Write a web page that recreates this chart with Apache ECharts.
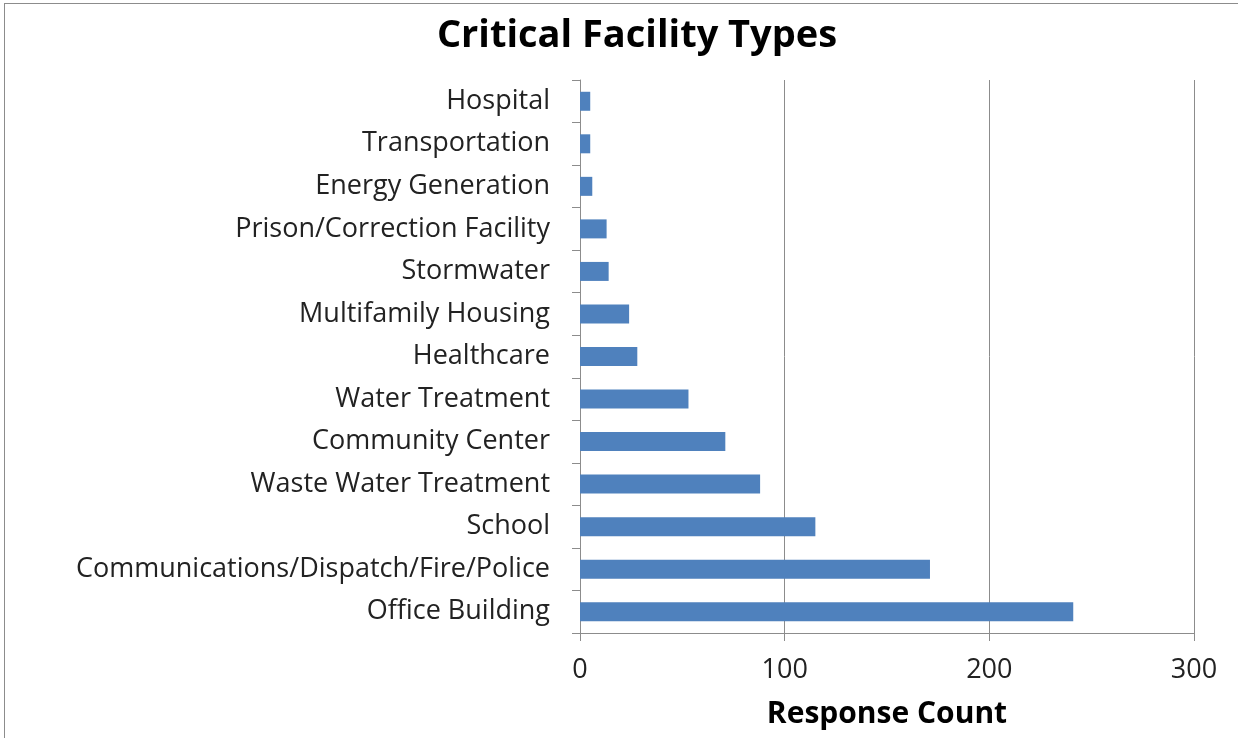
<!DOCTYPE html>
<html>
<head>
<meta charset="utf-8">
<script src="https://cdn.jsdelivr.net/npm/echarts@6/dist/echarts.min.js"></script>
<style>
  html, body { margin: 0; padding: 0; background: #fff; }
  #frame { position: absolute; left: 4px; top: 3px; width: 1240px; height: 740px; border: 1px solid #8c8c8c; box-sizing: border-box; }
  #chart { position: absolute; left: 0; top: 0; width: 1238px; height: 738px; }
</style>
</head>
<body>
<div id="frame"></div>
<div id="chart"></div>
<script>
const categories = [
  'Hospital',
  'Transportation',
  'Energy Generation',
  'Prison/Correction Facility',
  'Stormwater',
  'Multifamily Housing',
  'Healthcare',
  'Water Treatment',
  'Community Center',
  'Waste Water Treatment',
  'School',
  'Communications/Dispatch/Fire/Police',
  'Office Building'
];
const responseCounts = [5, 5, 6, 13, 14, 24, 28, 53, 71, 88, 115, 171, 241];
const xTicks = [0, 100, 200, 300];

const chart = echarts.init(document.getElementById('chart'));
const font = '"Open Sans", "Noto Sans", sans-serif';

const option = {
  animation: false,
  title: {
    text: 'Critical Facility Types',
    left: 632,
    top: 12,
    textAlign: 'center',
    textStyle: { fontFamily: font, fontSize: 38, fontWeight: 'bold', color: '#000' }
  },
  grid: {
    left: 580,
    right: 44,
    top: 80,
    bottom: 105,
    containLabel: false
  },
  xAxis: {
    type: 'value',
    min: xTicks[0],
    max: xTicks[xTicks.length - 1],
    interval: 100,
    name: 'Response Count',
    nameLocation: 'middle',
    nameGap: 66,
    nameTextStyle: { fontFamily: font, fontSize: 30, fontWeight: 'bold', color: '#000' },
    axisLine: { show: true, lineStyle: { color: '#8c8c8c', width: 1 } },
    axisTick: { show: true, length: 8, lineStyle: { color: '#8c8c8c' } },
    axisLabel: { fontFamily: font, fontSize: 27, color: '#222', margin: 24 },
    splitLine: { show: true, lineStyle: { color: '#8c8c8c', width: 1 } }
  },
  yAxis: {
    type: 'category',
    data: categories,
    inverse: true,
    axisLine: { show: true, lineStyle: { color: '#8c8c8c', width: 1 } },
    axisTick: { show: true, length: 8, lineStyle: { color: '#8c8c8c' } },
    axisLabel: { fontFamily: font, fontSize: 27, color: '#222', margin: 30 },
    splitLine: { show: false }
  },
  series: [{
    name: 'Response Count',
    type: 'bar',
    data: responseCounts,
    barWidth: 19,
    itemStyle: { color: '#4f81bd' }
  }]
};

chart.setOption(option);
</script>
</body>
</html>
